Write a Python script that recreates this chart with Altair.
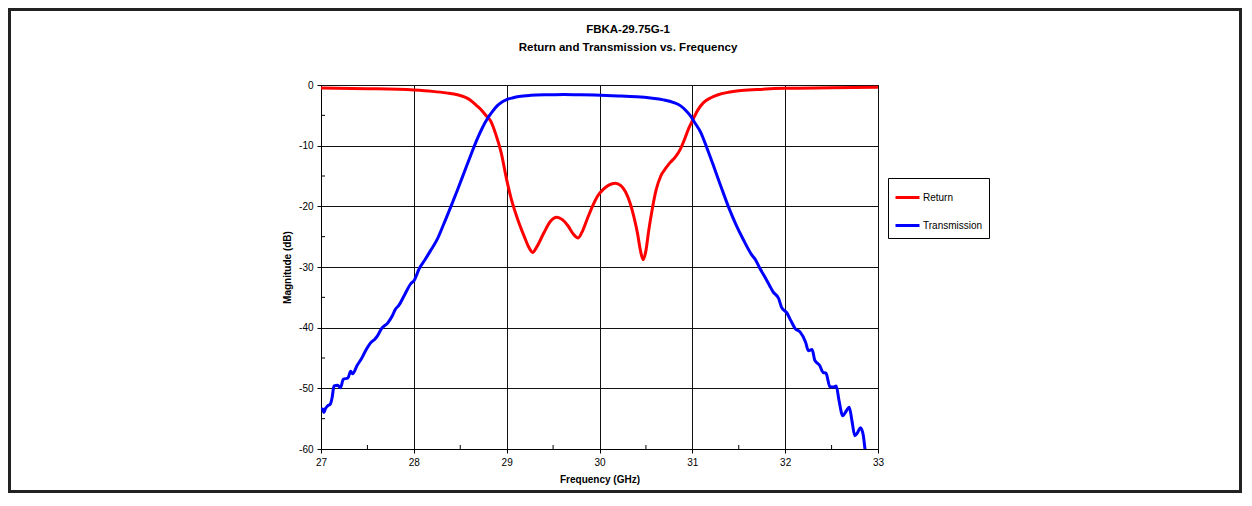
import altair as alt
import pandas as pd

# ---------------- data ----------------
ret_freq = [27.0, 27.5, 28.0, 28.2, 28.35, 28.47, 28.55, 28.61, 28.67, 28.72, 28.77, 28.83,
            28.88, 28.94, 29.0, 29.05, 29.1, 29.19, 29.24, 29.28, 29.32, 29.4, 29.47, 29.54,
            29.6, 29.66, 29.72, 29.77, 29.81, 29.87, 29.93, 29.98, 30.04, 30.1, 30.17, 30.23,
            30.28, 30.33, 30.37, 30.41, 30.44, 30.47, 30.5, 30.53, 30.57, 30.61, 30.66, 30.71,
            30.76, 30.82, 30.87, 30.92, 30.96, 31.01, 31.06, 31.12, 31.2, 31.27, 31.39, 31.5,
            31.7, 32.0, 32.5, 33.0]
ret_db = [-0.5, -0.6, -0.83, -1.05, -1.3, -1.6, -2.0, -2.5, -3.3, -4.0, -4.9, -6.0,
          -8.0, -11.1, -15.6, -18.8, -21.3, -25.0, -26.8, -27.6, -26.8, -24.4, -22.5, -21.8,
          -22.2, -23.2, -24.6, -25.2, -24.3, -22.0, -19.8, -18.3, -17.2, -16.5, -16.2, -16.6,
          -17.6, -19.5, -21.7, -24.5, -27.2, -28.8, -27.3, -24.0, -20.3, -17.3, -15.0, -13.8,
          -12.8, -11.8, -10.6, -8.8, -7.2, -5.6, -4.1, -2.9, -2.1, -1.65, -1.2, -0.95,
          -0.75, -0.55, -0.45, -0.35]

tr_freq = [27.00, 27.02, 27.03, 27.05, 27.07, 27.10, 27.12, 27.14, 27.18, 27.21, 27.24, 27.29,
           27.32, 27.34, 27.39, 27.44, 27.48, 27.54, 27.58, 27.61, 27.65, 27.72, 27.77, 27.80,
           27.84, 27.90, 27.97, 28.00, 28.06, 28.12, 28.18, 28.25, 28.32, 28.40, 28.47, 28.54,
           28.61, 28.68, 28.74, 28.79, 28.85, 28.90, 28.95, 29.00, 29.07, 29.13, 29.26, 29.45,
           29.62, 29.80, 30.01, 30.2, 30.4, 30.55, 30.69, 30.80, 30.87, 30.93, 30.98, 31.03,
           31.09, 31.16, 31.23, 31.31, 31.40, 31.47, 31.55, 31.64, 31.68, 31.73, 31.78, 31.83,
           31.87, 31.93, 31.96, 32.02, 32.06, 32.11, 32.16, 32.22, 32.25, 32.29, 32.32, 32.37,
           32.41, 32.44, 32.48, 32.52, 32.55, 32.58, 32.62, 32.66, 32.69, 32.72, 32.75, 32.78,
           32.81, 32.84, 32.86, 32.87]
tr_db = [-53.5, -53.4, -54.0, -53.3, -52.9, -52.6, -51.5, -49.6, -49.5, -49.9, -48.5, -48.3,
         -47.2, -47.6, -46.2, -45.0, -43.8, -42.4, -41.9, -41.3, -40.2, -39.2, -38.0, -37.0,
         -36.3, -34.6, -32.7, -32.3, -30.2, -28.8, -27.3, -25.5, -23.0, -20.0, -17.3, -14.5,
         -11.7, -9.0, -7.0, -5.6, -4.3, -3.4, -2.8, -2.4, -2.1, -1.9, -1.7, -1.6,
         -1.55, -1.6, -1.7, -1.8, -1.95, -2.15, -2.45, -2.9, -3.4, -4.2, -5.1, -6.3,
         -7.8, -10.5, -13.4, -16.8, -20.5, -23.0, -25.5, -28.0, -28.8, -30.3, -31.6, -33.0,
         -34.1, -35.2, -36.6, -37.6, -38.8, -40.2, -40.7, -42.4, -43.8, -43.6, -45.4, -46.2,
         -47.4, -47.5, -49.7, -49.8, -49.6, -52.0, -54.5, -53.7, -53.1, -55.4, -57.8, -57.3,
         -56.5, -57.6, -60.0, -61.0]

series_names = ["Return", "Transmission"]
series_colors = ["#FF0000", "#0000FF"]

x_ticks = [27, 28, 29, 30, 31, 32, 33]
y_ticks = [-60, -50, -40, -30, -20, -10, 0]
x_minor = [27.5, 28.5, 29.5, 30.5, 31.5, 32.5]
y_minor = [-55, -45, -35, -25, -15, -5]

title_lines = ["FBKA-29.75G-1", "Return and Transmission vs. Frequency"]
x_title = "Frequency (GHz)"
y_title = "Magnitude (dB)"

# ---------------- layout ----------------
FONT = "Liberation Sans"
W, H = 557, 364
PAD = {"left": 313, "top": 77, "right": 364, "bottom": 44}

df = pd.concat([
    pd.DataFrame({"f": ret_freq, "db": ret_db, "s": series_names[0]}),
    pd.DataFrame({"f": tr_freq, "db": tr_db, "s": series_names[1]}),
], ignore_index=True)

xscale = alt.Scale(domain=[27, 33], nice=False, zero=False)
yscale = alt.Scale(domain=[-60, 0], nice=False, zero=False)

common = dict(grid=True, gridColor="#111", gridWidth=1,
              domainColor="#000", tickColor="#000", tickSize=4, labelPadding=4,
              labelFont=FONT, labelFontSize=10, labelColor="#000", labelFlush=False,
              titleFont=FONT, titleFontSize=10, titleFontWeight="bold", titleColor="#000",
              labelExpr="'' + datum.value")
xaxis = alt.Axis(values=x_ticks, title=x_title, titlePadding=7, **common)
yaxis = alt.Axis(values=y_ticks, title=y_title, titlePadding=6, **common)

lines = alt.Chart(df).mark_line(strokeWidth=3, clip=True, interpolate="monotone").encode(
    x=alt.X("f:Q", scale=xscale, axis=xaxis),
    y=alt.Y("db:Q", scale=yscale, axis=yaxis),
    color=alt.Color("s:N", scale=alt.Scale(domain=series_names, range=series_colors),
                    legend=alt.Legend(title=None, orient="none", legendX=567, legendY=93,
                                      symbolType="stroke", symbolSize=576,
                                      symbolStrokeWidth=3, labelFont=FONT, labelFontSize=10,
                                      labelColor="#000", labelOffset=2, rowPadding=8,
                                      padding=6, strokeColor="#000", fillColor="white")),
    order="f:Q",
)

xm = alt.Chart(pd.DataFrame({"f": x_minor})).mark_rule(color="#000", strokeWidth=1).encode(
    x=alt.X("f:Q", scale=xscale), y=alt.value(H), y2=alt.value(H - 4))
ym = alt.Chart(pd.DataFrame({"v": y_minor})).mark_rule(color="#000", strokeWidth=1).encode(
    y=alt.Y("v:Q", scale=yscale), x=alt.value(0), x2=alt.value(4))

t1 = alt.Chart(pd.DataFrame({"t": [title_lines[0]]})).mark_text(
    font=FONT, fontSize=11.5, fontWeight="bold", color="#000", baseline="middle", align="center"
).encode(text="t:N", x=alt.value(307), y=alt.value(-55))
t2 = alt.Chart(pd.DataFrame({"t": [title_lines[1]]})).mark_text(
    font=FONT, fontSize=11.5, fontWeight="bold", color="#000", baseline="middle", align="center"
).encode(text="t:N", x=alt.value(307), y=alt.value(-37))

frame = alt.Chart(pd.DataFrame({"a": [0]})).mark_rect(
    fillOpacity=0, stroke="#222", strokeWidth=3
).encode(x=alt.value(-PAD["left"] + 1.5), x2=alt.value(W + PAD["right"] - 1.5),
         y=alt.value(-PAD["top"] + 1.5), y2=alt.value(H + PAD["bottom"] - 1.5))

chart = alt.layer(frame, xm, ym, lines, t1, t2).properties(
    width=W, height=H,
    autosize=alt.AutoSizeParams(type="none"),
    padding=PAD,
    background="white",
).configure_view(stroke="#000", strokeWidth=1)

chart.save("out.html", embed_options={"renderer": "svg", "actions": False})
